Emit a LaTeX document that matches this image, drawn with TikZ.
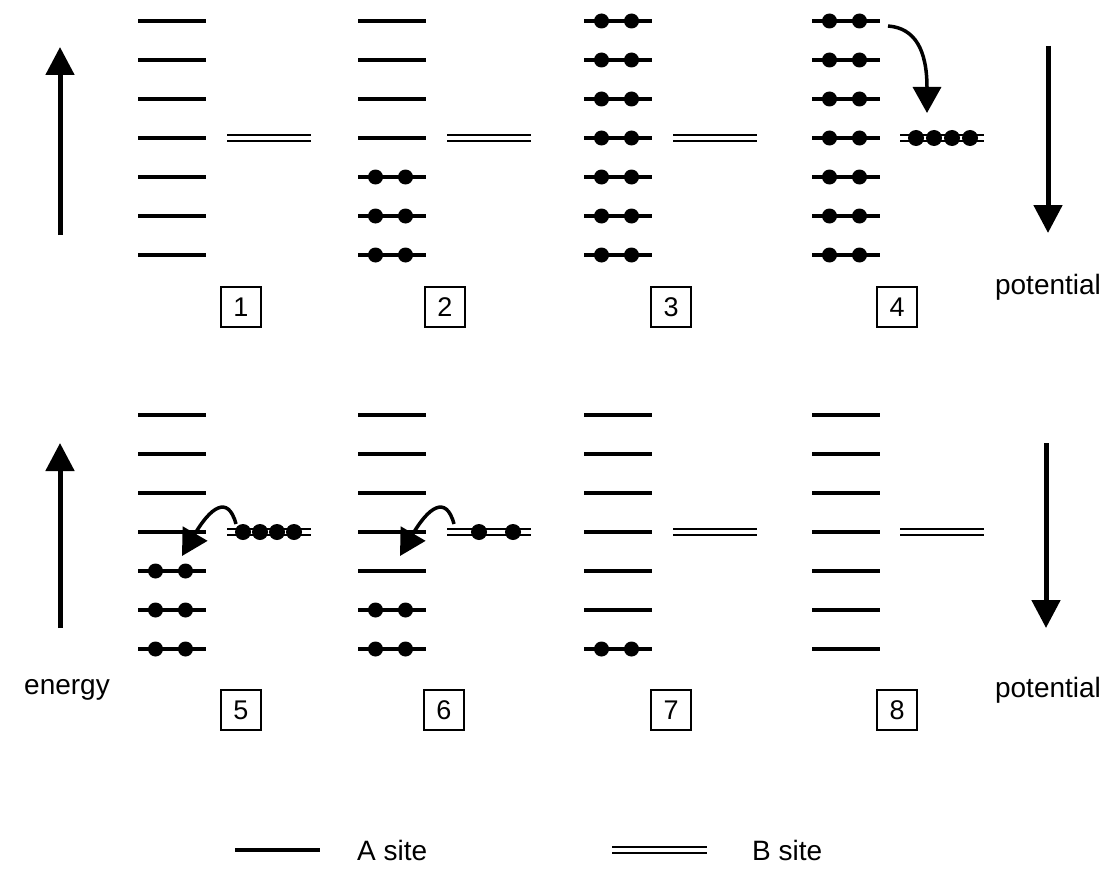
\documentclass[tikz,border=0pt]{standalone}
\usepackage{fontspec}
\setmainfont{Liberation Sans}
\usetikzlibrary{arrows.meta}
\newcommand\alevels[2]{% A-site ladder: left x, top y
  \foreach \k in {0,...,6} {\draw[alevel] (#1,#2+39*\k) -- ++(68,0);}}
\newcommand\blevel[2]{% B-site double line: left x, centre y
  \draw[bline] (#1,#2-3) -- ++(84,0);
  \draw[bline] (#1,#2+3) -- ++(84,0);}
\newcommand\adots[3]{% electron pairs on A levels: left x, top y, list of level indices
  \foreach \k in {#3} {\fill (#1+17.5,#2+39*\k) circle[radius=7.5];
                       \fill (#1+47.5,#2+39*\k) circle[radius=7.5];}}
\newcommand\bdots[3]{% electrons on B level: left x, centre y, list of offsets
  \foreach \d in {#3} {\fill (#1+\d,#2) circle[radius=8];}}
\begin{document}
\begin{tikzpicture}[x=1pt,y=-1pt,
  alevel/.style={line width=3.5pt},
  bline/.style={line width=2.7pt},
  numbox/.style={draw,line width=2.6pt,minimum width=40pt,minimum height=40pt,inner sep=0pt,font=\fontsize{27}{30}\selectfont},
  lbl/.style={font=\fontsize{28}{34}\selectfont,inner sep=0pt},
  bigarrow/.style={line width=5pt,-{Triangle[length=28pt,width=28pt]}},
  hop/.style={line width=3.5pt,-{Triangle[length=26pt,width=28pt]}},
]
\useasboundingbox (0,0) rectangle (1113,872);
% ---------- top row ----------
\alevels{138}{21}  \blevel{227}{138}
\alevels{358}{21}  \blevel{447}{138}
\alevels{584}{21}  \blevel{673}{138}
\alevels{812}{21}  \blevel{900}{138}
\adots{358}{21}{4,5,6}
\adots{584}{21}{0,...,6}
\adots{812}{21}{0,...,6}
\bdots{900}{138}{16,34,52,70}
% ---------- bottom row ----------
\alevels{138}{415} \blevel{227}{532}
\alevels{358}{415} \blevel{447}{532}
\alevels{584}{415} \blevel{673}{532}
\alevels{812}{415} \blevel{900}{532}
\adots{138}{415}{4,5,6}
\adots{358}{415}{5,6}
\adots{584}{415}{6}
\bdots{227}{532}{16,33,50,67}
\bdots{447}{532}{32,66}
% ---------- hopping arrows ----------
\coordinate (h4s) at (888,26);  \coordinate (h4e) at (927,113);
\draw[hop] (h4s) .. controls (915,28) and (927,50) .. (h4e);
\coordinate (h5s) at (236,524); \coordinate (h5e) at (182,556);
\draw[hop] (h5s) .. controls (228,494) and (210,508) .. (h5e);
\coordinate (h6s) at (454,524); \coordinate (h6e) at (400,556);
\draw[hop] (h6s) .. controls (446,494) and (428,508) .. (h6e);
% ---------- big arrows ----------
\coordinate (e1s) at (60,235);   \coordinate (e1e) at (60,47);
\coordinate (p1s) at (1048,46);  \coordinate (p1e) at (1048,233);
\coordinate (e2s) at (60,628);   \coordinate (e2e) at (60,443);
\coordinate (p2s) at (1046,443); \coordinate (p2e) at (1046,628);
\draw[bigarrow] (e1s) -- (e1e);
\draw[bigarrow] (p1s) -- (p1e);
\draw[bigarrow] (e2s) -- (e2e);
\draw[bigarrow] (p2s) -- (p2e);
% ---------- labels ----------
\node[lbl] (pot1) at (1048,287) {potential};
\node[lbl] (pot2) at (1048,690) {potential};
\node[lbl] (energy) at (67,690) {energy};
\node[numbox] (b1) at (241,307) {1};
\node[numbox] (b2) at (445,307) {2};
\node[numbox] (b3) at (671,307) {3};
\node[numbox] (b4) at (897,307) {4};
\node[numbox] (b5) at (241,710) {5};
\node[numbox] (b6) at (444,710) {6};
\node[numbox] (b7) at (671,710) {7};
\node[numbox] (b8) at (897,710) {8};
% ---------- legend ----------
\coordinate (la1) at (235,850); \coordinate (la2) at (320,850);
\draw[alevel] (la1) -- (la2);
\node[lbl,anchor=west] (asite) at (357,850) {A site};
\draw[bline] (612,847) -- (707,847);
\draw[bline] (612,853) -- (707,853);
\node[lbl,anchor=west] (bsite) at (752,850) {B site};
\end{tikzpicture}
\end{document}
